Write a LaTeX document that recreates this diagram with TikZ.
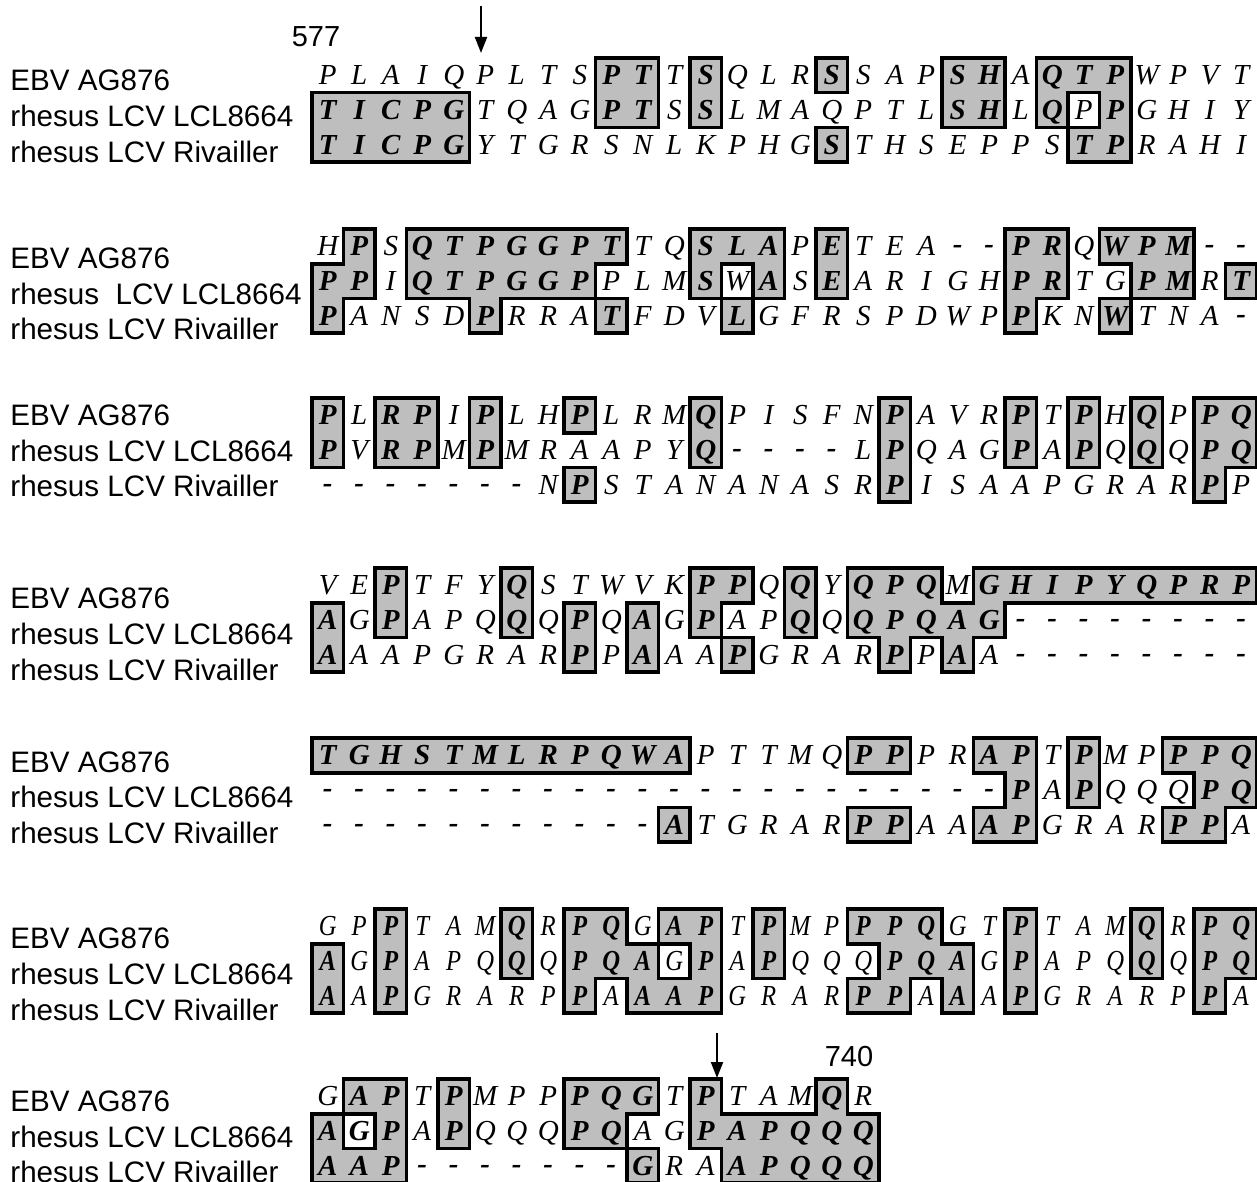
\documentclass[tikz,border=0pt]{standalone}
\usepackage{fontspec}
\setmainfont{Liberation Sans}
\newfontfamily\seqfont{Liberation Serif}
\usepackage{graphicx}
\usetikzlibrary{arrows.meta}
\definecolor{boxgray}{RGB}{190,190,190}

\makeatletter
\newcount\seqcc
\def\StoreRow#1#2#3#4{\global\seqcc=0 \def\sr@p{#1}\def\sr@b{#2}\def\sr@r{#3}\sr@loop#4\relax}
\def\sr@loop#1{\ifx#1\relax\else\global\advance\seqcc by 1 \expandafter\xdef\csname\sr@p-\sr@b-\sr@r-\the\seqcc\endcsname{#1}\expandafter\sr@loop\fi}
\makeatother

% block 1
\StoreRow{L}{1}{1}{PLAIQPLTSPTTSQLRSSAPSHAQTPWPVT}
\StoreRow{L}{1}{2}{TICPGTQAGPTSSLMAQPTLSHLQPPGHIY}
\StoreRow{L}{1}{3}{TICPGYTGRSNLKPHGSTHSEPPSTPRAHI}
\StoreRow{G}{1}{1}{.........xx.x...x...xx.xxx....}
\StoreRow{G}{1}{2}{xxxxx....xx.x.......xx.xox....}
\StoreRow{G}{1}{3}{xxxxx...........x.......xx....}
% block 2
\StoreRow{L}{2}{1}{HPSQTPGGPTTQSLAPETEA--PRQWPM--}
\StoreRow{L}{2}{2}{PPIQTPGGPPLMSWASEARIGHPRTGPMRT}
\StoreRow{L}{2}{3}{PANSDPRRATFDVLGFRSPDWPPKNWTNA-}
\StoreRow{G}{2}{1}{.x.xxxxxxx..xxx.x.....xx.xxx..}
\StoreRow{G}{2}{2}{xx.xxxxxx...xox.x.....xx..xx.x}
\StoreRow{G}{2}{3}{x....x...x...x........x..x....}
% block 3
\StoreRow{L}{3}{1}{PLRPIPLHPLRMQPISFNPAVRPTPHQPPQ}
\StoreRow{L}{3}{2}{PVRPMPMRAAPYQ----LPQAGPAPQQQPQ}
\StoreRow{L}{3}{3}{-------NPSTANANASRPISAAPGRARPP}
\StoreRow{G}{3}{1}{x.xx.x..x...x.....x...x.x.x.xx}
\StoreRow{G}{3}{2}{x.xx.x......x.....x...x.x.x.xx}
\StoreRow{G}{3}{3}{........x.........x.........x.}
% block 4
\StoreRow{L}{4}{1}{VEPTFYQSTWVKPPQQYQPQMGHIPYQPRP}
\StoreRow{L}{4}{2}{AGPAPQQQPQAGPAPQQQPQAG--------}
\StoreRow{L}{4}{3}{AAAPGRARPPAAAPGRARPPAA--------}
\StoreRow{G}{4}{1}{..x...x.....xx.x.xxx.xxxxxxxxx}
\StoreRow{G}{4}{2}{x.x...x.x.x.x..x.xxxxx........}
\StoreRow{G}{4}{3}{x.......x.x..x....x.x.........}
% block 5
\StoreRow{L}{5}{1}{TGHSTMLRPQWAPTTMQPPPRAPTPMPPPQ}
\StoreRow{L}{5}{2}{----------------------PAPQQQPQ}
\StoreRow{L}{5}{3}{-----------ATGRARPPAAAPGRARPPA}
\StoreRow{G}{5}{1}{xxxxxxxxxxxx.....xx..xx.x..xxx}
\StoreRow{G}{5}{2}{......................x.x...xx}
\StoreRow{G}{5}{3}{...........x.....xx..xx....xx.}
% block 6
\StoreRow{L}{6}{1}{GPPTAMQRPQGAPTPMPPPQGTPTAMQRPQ}
\StoreRow{L}{6}{2}{AGPAPQQQPQAGPAPQQQPQAGPAPQQQPQ}
\StoreRow{L}{6}{3}{AAPGRARPPAAAPGRARPPAAAPGRARPPA}
\StoreRow{G}{6}{1}{..x...x.xx.xx.x..xxx..x...x.xx}
\StoreRow{G}{6}{2}{x.x...x.xxxox.x...xxx.x...x.xx}
\StoreRow{G}{6}{3}{x.x.....x.xxx....xx.x.x.....x.}
% block 7
\StoreRow{L}{7}{1}{GAPTPMPPPQGTPTAMQR}
\StoreRow{L}{7}{2}{AGPAPQQQPQAGPAPQQQ}
\StoreRow{L}{7}{3}{AAP-------GRAAPQQQ}
\StoreRow{G}{7}{1}{.xx.x...xxx.x...x.}
\StoreRow{G}{7}{2}{xOx.x...xx..xxxxxx}
\StoreRow{G}{7}{3}{xxx.......x..xxxxx}

\def\codeX{x}\def\codeO{O}\def\codeDot{.}\def\dashch{-}

\tikzset{
  boxline/.style={line width=1.8pt, line cap=rect},
  seq/.style={font=\seqfont\itshape\fontsize{14.5}{16}\selectfont, anchor=base, inner sep=0pt},
  lab/.style={font=\fontsize{14.8}{17}\selectfont, anchor=base west, inner sep=0pt},
  num/.style={font=\fontsize{14.5}{17}\selectfont, inner sep=0pt},
  pointer/.style={line width=1pt, -{Triangle[length=8pt,width=6pt]}}
}
\newcommand\blocklist{1/58/30,2/229/30,3/398/30,4/568/30,5/738/30,6/909/30,7/1079/18}

\begin{document}
\begin{tikzpicture}[x=0.5pt,y=-0.5pt]
\useasboundingbox (0,0) rectangle (1257,1182);
% labels
\foreach \b/\ya/\yb/\yc in {1/80/116/152,2/258/294/329,3/415/451/486,4/598/634/670,5/762/797/833,6/938/974/1010,7/1101/1137/1172}{
  \node[lab] (lab-\b-1) at (10,\ya+10.5) {EBV AG876};
  \ifnum\b=2
    \node[lab] (lab-\b-2) at (10,\yb+10.5) {rhesus~ LCV LCL8664};
  \else
    \node[lab] (lab-\b-2) at (10,\yb+10.5) {rhesus LCV LCL8664};
  \fi
  \node[lab] (lab-\b-3) at (10,\yc+10.5) {rhesus LCV Rivailler};
}
% pass 1: fills
\foreach \b/\T/\N in \blocklist{
 \foreach \r in {1,2,3}{
  \foreach \c in {1,...,\N}{
   \edef\code{\csname G-\b-\r-\c\endcsname}
   \pgfmathsetmacro\xl{312+(\c-1)*31.5}
   \pgfmathsetmacro\yt{\T+(\r-1)*34.7}
   \ifx\code\codeX \fill[boxgray] (\xl,\yt) rectangle ++(31.5,34.7);\fi
 }}}
% pass 2: letters
\foreach \b/\T/\N in \blocklist{
 \foreach \r in {1,2,3}{
  \foreach \c in {1,...,\N}{
   \edef\code{\csname G-\b-\r-\c\endcsname}
   \edef\lt{\csname L-\b-\r-\c\endcsname}
   \pgfmathsetmacro\xc{312+(\c-0.5)*31.5}
   \pgfmathsetmacro\yb{\T+(\r-0.5)*34.7+9.5}
   \def\wt{}
   \ifx\code\codeX\def\wt{\bfseries}\fi
   \ifx\code\codeO\def\wt{\bfseries}\fi
   \ifx\lt\dashch \def\txt{\raisebox{1pt}{\bfseries-}}\else\edef\txt{\noexpand\wt\lt}\fi
   \ifnum\b=6 \def\scl{0.85}\else\def\scl{1}\fi
   \node[seq] (s-\b-\r-\c) at (\xc,\yb) {\scalebox{\scl}[1]{\txt}};
 }}}
% pass 3: outlines
\foreach \b/\T/\N in \blocklist{
 \foreach \r in {1,2,3}{
  \foreach \c in {1,...,\N}{
   \edef\code{\csname G-\b-\r-\c\endcsname}
   \edef\rn{\ifcsname G-\b-\r-\the\numexpr\c+1\relax\endcsname\csname G-\b-\r-\the\numexpr\c+1\relax\endcsname\else.\fi}
   \edef\dn{\ifcsname G-\b-\the\numexpr\r+1\relax-\c\endcsname\csname G-\b-\the\numexpr\r+1\relax-\c\endcsname\else.\fi}
   \pgfmathsetmacro\xl{312+(\c-1)*31.5}
   \pgfmathsetmacro\xr{312+\c*31.5}
   \pgfmathsetmacro\yt{\T+(\r-1)*34.7}
   \pgfmathsetmacro\ybt{\T+\r*34.7}
   \ifx\code\rn\else \draw[boxline] (\xr,\yt) -- (\xr,\ybt);\fi
   \ifx\code\dn\else \draw[boxline] (\xl,\ybt) -- (\xr,\ybt);\fi
   \ifnum\c=1 \ifx\code\codeDot\else \draw[boxline] (\xl,\yt) -- (\xl,\ybt);\fi\fi
   \ifnum\r=1 \ifx\code\codeDot\else \draw[boxline] (\xl,\yt) -- (\xr,\yt);\fi\fi
 }}}
% numbers and arrows
\node[num] (n577) at (316,37) {577};
\node[num] (n740) at (849,1057) {740};
\coordinate (a1s) at (481,6);
\coordinate (a1e) at (481,53);
\coordinate (a2s) at (717,1033);
\coordinate (a2e) at (717,1078);
\draw[pointer] (a1s) -- (a1e);
\draw[pointer] (a2s) -- (a2e);
\end{tikzpicture}
\end{document}
